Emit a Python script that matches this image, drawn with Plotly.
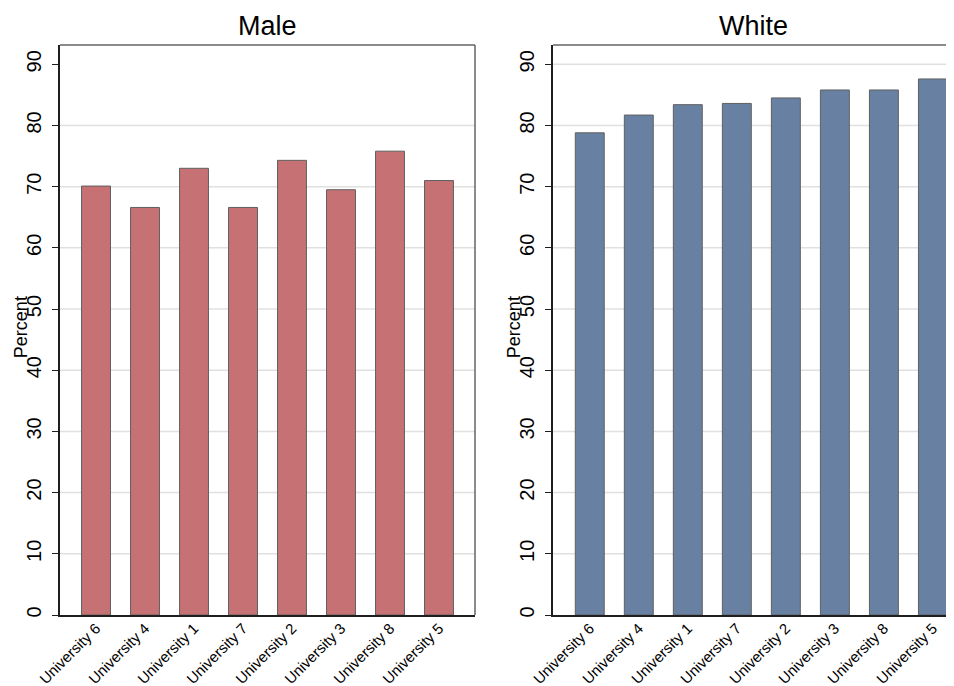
import plotly.graph_objects as go

categories = ["University 6", "University 4", "University 1", "University 7",
              "University 2", "University 3", "University 8", "University 5"]
male_values = [70.1, 66.6, 73.0, 66.6, 74.3, 69.5, 75.8, 71.0]
white_values = [78.8, 81.7, 83.4, 83.6, 84.5, 85.8, 85.8, 87.6]
panel_titles = ["Male", "White"]
y_ticks = [0, 10, 20, 30, 40, 50, 60, 70, 80, 90]
grid_left = [10, 20, 30, 40, 50, 60, 70, 80]
grid_right = [10, 20, 30, 40, 50, 60, 70, 80, 90]

OFF = 8  # page body margin
W, H = 954 - OFF, 686 - OFF
FONT = "Arial, Liberation Sans, Helvetica, sans-serif"
male_color = "rgb(198,114,116)"
white_color = "rgb(104,129,163)"
outline = "rgb(95,95,95)"


def px(x):
    return (x - OFF) / W


def py(y):
    return (H - (y - OFF)) / H


fig = go.Figure()
fig.add_trace(go.Bar(x=categories, y=male_values, width=0.59,
                     marker=dict(color=male_color, line=dict(color=outline, width=1)),
                     xaxis="x", yaxis="y", showlegend=False))
fig.add_trace(go.Bar(x=categories, y=white_values, width=0.59,
                     marker=dict(color=white_color, line=dict(color=outline, width=1)),
                     xaxis="x2", yaxis="y2", showlegend=False))

ydom = [py(615), py(45)]
x1dom = [px(60), px(475)]
x2dom = [px(553), 1.0]

common_x = dict(type="category", showgrid=False, ticks="", tickangle=-45,
                tickfont=dict(family=FONT, size=15, color="black"),
                showline=True, linecolor="rgb(30,30,30)", linewidth=1.5,
                zeroline=False, fixedrange=True, automargin=False,
                ticklabelstandoff=-3)
common_y = dict(range=[0, 93.15], tickvals=y_ticks, ticks="outside", ticklen=6,
                tickcolor="rgb(30,30,30)", tickangle=-90, showgrid=False,
                tickfont=dict(family=FONT, size=20, color="black"),
                showline=True, linecolor="rgb(30,30,30)", linewidth=1.5,
                zeroline=False, ticklabelstandoff=3, automargin=False)

fig.update_layout(
    width=W, height=H,
    margin=dict(l=0, r=0, t=0, b=0, autoexpand=False),
    paper_bgcolor="white", plot_bgcolor="white",
    bargap=0.4,
    xaxis=dict(domain=x1dom, range=[-0.735, 7.735], anchor="y", **common_x),
    yaxis=dict(domain=ydom, anchor="x", **common_y),
    xaxis2=dict(domain=x2dom, range=[-0.75, 7.43], anchor="y2", **common_x),
    yaxis2=dict(domain=ydom, anchor="x2", **common_y),
)

shapes = []
for g in grid_left:
    shapes.append(dict(type="line", xref="x domain", yref="y", x0=0, x1=1, y0=g, y1=g,
                       line=dict(color="rgb(224,224,224)", width=1.5), layer="below"))
for g in grid_right:
    shapes.append(dict(type="line", xref="x2 domain", yref="y2", x0=0, x1=1, y0=g, y1=g,
                       line=dict(color="rgb(224,224,224)", width=1.5), layer="below"))
# panel frames (top/right borders)
shapes.append(dict(type="line", xref="x domain", yref="y domain", x0=0, x1=1, y0=1, y1=1,
                   line=dict(color="rgb(100,100,100)", width=1.5)))
shapes.append(dict(type="line", xref="x domain", yref="y domain", x0=1, x1=1, y0=0, y1=1,
                   line=dict(color="rgb(100,100,100)", width=1.5)))
shapes.append(dict(type="line", xref="x2 domain", yref="y2 domain", x0=0, x1=1, y0=1, y1=1,
                   line=dict(color="rgb(100,100,100)", width=1.5)))
fig.update_layout(shapes=shapes)

annotations = []
for i, (t, xr) in enumerate(zip(panel_titles, ["x domain", "x2 domain"])):
    annotations.append(dict(text=t, xref=xr, yref="paper", x=0.5, y=py(26),
                            xanchor="center", yanchor="middle", showarrow=False,
                            font=dict(family=FONT, size=27, color="black")))
    annotations.append(dict(text="Percent", xref=xr, yref="y domain" if i == 0 else "y2 domain",
                            x=0, y=0.505, xanchor="center", yanchor="middle", xshift=-39,
                            textangle=-90, showarrow=False,
                            font=dict(family=FONT, size=18, color="black")))
fig.update_layout(annotations=annotations)

fig.write_html("out.html")
